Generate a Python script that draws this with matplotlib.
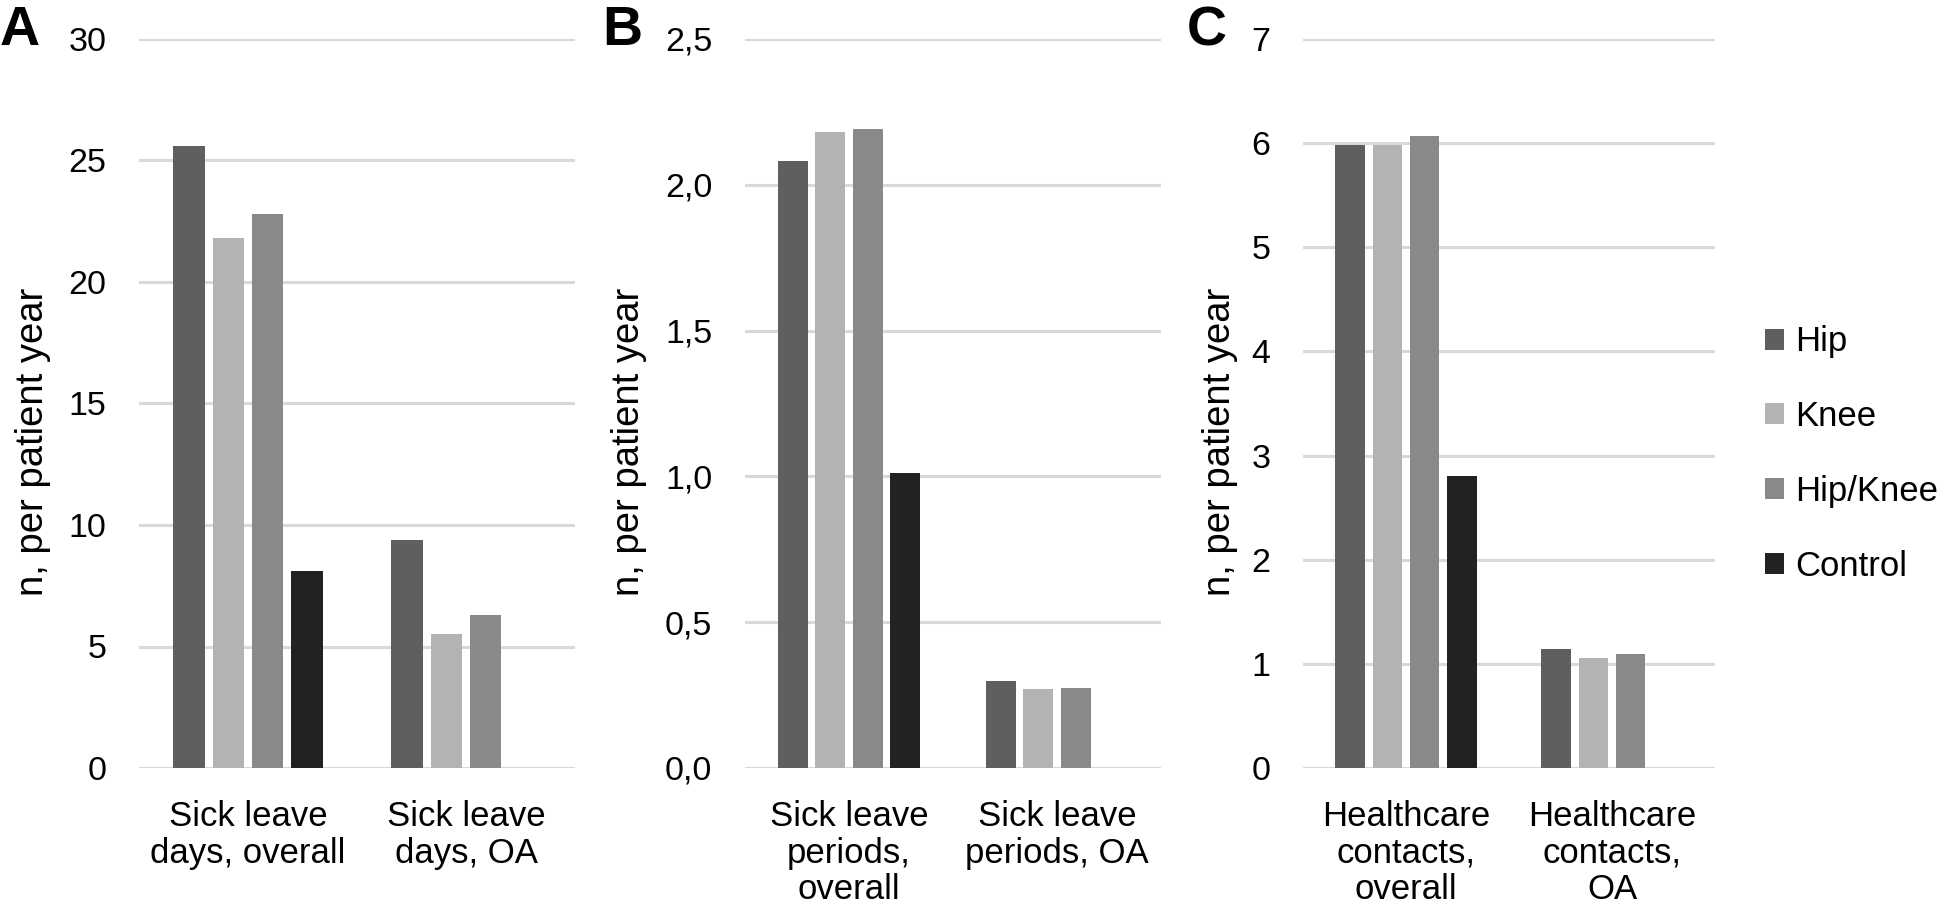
import numpy as np
import matplotlib
matplotlib.use("Agg")
import matplotlib.pyplot as plt

plt.rcParams['font.family'] = ['Liberation Sans', 'DejaVu Sans']

# data
groups = ["Hip", "Knee", "Hip/Knee", "Control"]
colors = ["#5f5f5f", "#b3b3b3", "#898989", "#222222"]

cats_a = ["Sick leave\ndays, overall", "Sick leave\ndays, OA"]
hip_a = [25.6, 9.4]
knee_a = [21.8, 5.5]
hipknee_a = [22.8, 6.3]
control_a = [8.1, 0]
ticks_a = [0, 5, 10, 15, 20, 25, 30]
ticklabels_a = ["0", "5", "10", "15", "20", "25", "30"]

cats_b = ["Sick leave\nperiods,\noverall", "Sick leave\nperiods, OA"]
hip_b = [2.08, 0.30]
knee_b = [2.18, 0.27]
hipknee_b = [2.19, 0.275]
control_b = [1.01, 0]
ticks_b = [0, 0.5, 1.0, 1.5, 2.0, 2.5]
ticklabels_b = ["0,0", "0,5", "1,0", "1,5", "2,0", "2,5"]

cats_c = ["Healthcare\ncontacts,\noverall", "Healthcare\ncontacts,\nOA"]
hip_c = [5.98, 1.14]
knee_c = [5.98, 1.06]
hipknee_c = [6.07, 1.09]
control_c = [2.80, 0]
ticks_c = [0, 1, 2, 3, 4, 5, 6, 7]
ticklabels_c = ["0", "1", "2", "3", "4", "5", "6", "7"]

panels = [
    ("A", cats_a, [hip_a, knee_a, hipknee_a, control_a], ticks_a, ticklabels_a),
    ("B", cats_b, [hip_b, knee_b, hipknee_b, control_b], ticks_b, ticklabels_b),
    ("C", cats_c, [hip_c, knee_c, hipknee_c, control_c], ticks_c, ticklabels_c),
]

W, H = 1946, 911
fig = plt.figure(figsize=(W / 100, H / 100), dpi=100)

# axes boxes in pixels (left, right), top/bottom shared
boxes = [(139, 575), (745, 1161), (1303, 1715)]
top_px, bot_px = 39, 768
ylabel_x = [33, 629, 1220]
letter_x = [0, 602, 1187]

step = 0.181
width = 0.144

bars = None
for i, (letter, cats, series, ticks, ticklabels) in enumerate(panels):
    l, r = boxes[i]
    ax = fig.add_axes([l / W, 1 - bot_px / H, (r - l) / W, (bot_px - top_px) / H])
    x = np.arange(len(cats))
    handles = []
    for j, vals in enumerate(series):
        b = ax.bar(x + (j - 1.5) * step, vals, width, color=colors[j], label=groups[j], zorder=3)
        handles.append(b)
    if bars is None:
        bars = handles
    ax.set_xlim(-0.5, 1.5)
    ax.set_ylim(ticks[0], ticks[-1])
    ax.set_yticks(ticks)
    ax.set_yticklabels(ticklabels)
    ax.set_xticks(x)
    ax.set_xticklabels(cats, linespacing=1.14)
    ax.tick_params(axis='y', length=0, pad=23.5, labelsize=24.5)
    ax.tick_params(axis='x', length=0, pad=23, labelsize=25)
    for s in ax.spines.values():
        s.set_visible(False)
    ax.grid(axis='y', color='#d9d9d9', linewidth=2.2, zorder=0)
    ax.set_axisbelow(True)

    fig.text(ylabel_x[i] / W, 1 - 442 / H, "n, per patient year", rotation=90,
             ha='center', va='center', fontsize=27.5)
    fig.text(letter_x[i] / W, 1 - 45 / H, letter, ha='left', va='baseline',
             fontsize=40, fontweight='bold')

leg = fig.legend(bars, groups, loc='center left', bbox_to_anchor=(1765 / W, 1 - 454 / H),
                 frameon=False, fontsize=25, handlelength=0.55, handleheight=0.55,
                 handletextpad=0.32, labelspacing=1.2, borderpad=0, borderaxespad=0)

fig.savefig("out.png", dpi=100)
